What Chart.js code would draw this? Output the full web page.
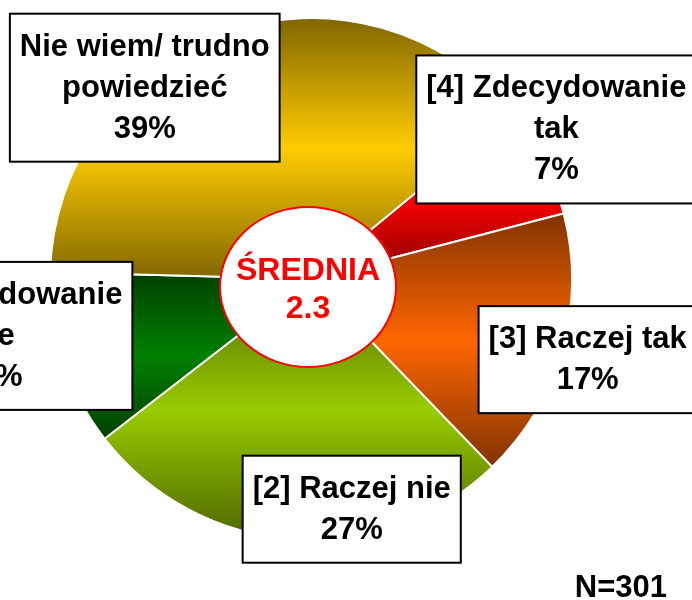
<!DOCTYPE html>
<html lang="pl">
<head>
<meta charset="utf-8">
<title>Średnia</title>
<script src="https://cdn.jsdelivr.net/npm/chart.js@4.4.1/dist/chart.umd.min.js"></script>
<style>
  html, body { margin: 0; padding: 0; background: #fff; }
  #wrap { width: 692px; height: 600px; }
</style>
</head>
<body>
<div id="wrap"><canvas id="pie" width="692" height="600"></canvas></div>
<script>
// answers, clockwise from the red slice
const categories = [
  ['[4] Zdecydowanie', 'tak'],
  ['[3] Raczej tak'],
  ['[2] Raczej nie'],
  ['[1] Zdecydowanie', 'nie'],
  ['Nie wiem/ trudno', 'powiedzieć']
];
const percents = [7, 17, 27, 11, 39];
const sampleSize = 301;
const mean = 2.3;

// each slice: bright in the middle, darker at its top and bottom
const brightColors = ['#ff0000', '#ff6600', '#99cc00', '#008000', '#ffcc00'];
const darkColors = ['#800000', '#803300', '#4d6600', '#004000', '#806600'];

// label box centres, in pie radii from the centre
const boxOffsets = [[0.94, -0.573], [1.06, 0.309], [0.156, 0.882], [-1.221, 0.218], [-0.637, -0.733]];

const ROTATION = 50.5;
const FONT = '"Liberation Sans", Arial, sans-serif';
const LINE_H = 41;

function pieGeometry(chart) {
  const a = chart.chartArea;
  const w = a.right - a.left, h = a.bottom - a.top;
  return { cx: (a.left + a.right) / 2, cy: (a.top + a.bottom) / 2, r: Math.min(w, h) / 2 - 1 };
}

function sliceAngles(i) {
  const total = percents.reduce((s, v) => s + v, 0);
  let start = ROTATION;
  for (let k = 0; k < i; k++) start += percents[k] / total * 360;
  return [start, start + percents[i] / total * 360];
}

function sliceGradient(context) {
  const chart = context.chart;
  const i = context.dataIndex;
  if (!chart.chartArea) return brightColors[i];
  const g = pieGeometry(chart);
  const [a0, a1] = sliceAngles(i);
  const yAt = deg => g.cy - g.r * Math.cos(deg * Math.PI / 180);
  const ys = [g.cy, yAt(a0), yAt(a1)];
  for (let k = Math.ceil(a0 / 180); k * 180 <= a1; k++) ys.push(yAt(k * 180));
  const top = Math.min(...ys), bottom = Math.max(...ys);
  const grad = chart.ctx.createLinearGradient(0, top, 0, bottom);
  grad.addColorStop(0, darkColors[i]);
  grad.addColorStop(0.5, brightColors[i]);
  grad.addColorStop(1, darkColors[i]);
  return grad;
}

const labelsPlugin = {
  id: 'labelBoxes',
  afterDatasetsDraw(chart) {
    const ctx = chart.ctx;
    const g = pieGeometry(chart);
    ctx.save();
    ctx.font = 'bold 31px ' + FONT;
    ctx.textAlign = 'center';
    ctx.textBaseline = 'alphabetic';

    categories.forEach((cat, i) => {
      const lines = cat.concat([percents[i] + '%']);
      const textW = Math.max(...lines.map(t => ctx.measureText(t).width));
      const bw = textW + 20;
      const bh = lines.length * LINE_H + 25;
      const bx = g.cx + boxOffsets[i][0] * g.r;
      const by = g.cy + boxOffsets[i][1] * g.r;
      const left = bx - bw / 2, top = by - bh / 2;
      ctx.fillStyle = '#ffffff';
      ctx.fillRect(left, top, bw, bh);
      ctx.strokeStyle = '#000000';
      ctx.lineWidth = 2;
      ctx.strokeRect(left, top, bw, bh);
      ctx.fillStyle = '#000000';
      lines.forEach((t, j) => ctx.fillText(t, bx, top + 42 + j * LINE_H));
    });

    // mean in the middle
    const ex = g.cx - 3, ey = g.cy + 8;
    ctx.beginPath();
    ctx.ellipse(ex, ey, 88, 80, 0, 0, Math.PI * 2);
    ctx.fillStyle = '#ffffff';
    ctx.fill();
    ctx.strokeStyle = '#ff0000';
    ctx.lineWidth = 2;
    ctx.stroke();
    ctx.font = 'bold 32px ' + FONT;
    ctx.fillStyle = '#ff0000';
    ctx.fillText('ŚREDNIA', ex, ey - 7);
    ctx.fillText(mean.toFixed(1), ex, ey + 31);

    ctx.font = 'bold 31px ' + FONT;
    ctx.fillStyle = '#000000';
    ctx.textAlign = 'right';
    ctx.fillText('N=' + sampleSize, 667, 597);
    ctx.restore();
  }
};

new Chart('pie', {
  type: 'pie',
  data: {
    labels: categories,
    datasets: [{
      data: percents,
      backgroundColor: sliceGradient,
      borderColor: '#ffffff',
      borderWidth: 2
    }]
  },
  options: {
    responsive: false,
    animation: false,
    rotation: ROTATION,
    layout: { padding: { left: 49, top: 17, right: 119, bottom: 59 } },
    plugins: {
      legend: { display: false },
      tooltip: { enabled: false }
    }
  },
  plugins: [labelsPlugin]
});
</script>
</body>
</html>
